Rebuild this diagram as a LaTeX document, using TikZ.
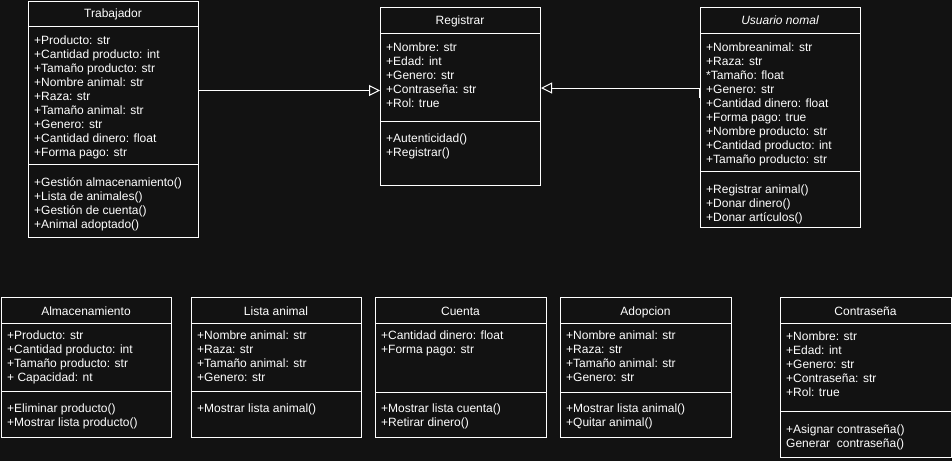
\documentclass[tikz,border=0pt]{standalone}
\usepackage{fontspec}
\setmainfont{Liberation Sans}
\usetikzlibrary{arrows.meta}
\definecolor{fondo}{RGB}{18,18,18}
\begin{document}
\begin{tikzpicture}[x=1pt, y=-1pt,
    caja/.style={draw=white, line width=1pt, inner sep=0pt, anchor=north west},
    linea/.style={white, line width=1pt},
    titulo/.style={anchor=base, inner sep=0pt, text=white, font=\fontsize{12}{14}\selectfont},
    attr/.style={anchor=base west, inner sep=0pt, text=white, text height=9pt, text depth=3pt, font=\fontsize{12}{14}\selectfont},
    hereda/.style={white, line width=1pt, -{Triangle[open, length=11pt, width=11pt]}}]
    \fill[fondo] (0,0) rectangle (952,461);
    \useasboundingbox (0,0) rectangle (952,461);

    % Trabajador
    \node[caja, minimum width=170pt, minimum height=236pt] (trab) at (28,1) {};
    \draw[linea] (trab.west |- 0,26) -- (trab.east |- 0,26);
    \draw[linea] (trab.west |- 0,164) -- (trab.east |- 0,164);
    \node[titulo] (trab-t) at (113,17.8) {Trabajador};
    \foreach \t [count=\i] in {+Producto: str, +Cantidad producto: int, +Tamaño producto: str, +Nombre animal: str, +Raza: str, +Tamaño animal: str, +Genero: str, +Cantidad dinero: float, +Forma pago: str}
        \node[attr] (trab-a\i) at (34,{44.5+14*(\i-1)}) {\t};
    \foreach \t [count=\i] in {+Gestión almacenamiento(), +Lista de animales(), +Gestión de cuenta(), +Animal adoptado()}
        \node[attr] (trab-m\i) at (34,{186.5+14*(\i-1)}) {\t};

    % Registrar
    \node[caja, minimum width=160pt, minimum height=178pt] (reg) at (380,7) {};
    \draw[linea] (reg.west |- 0,33) -- (reg.east |- 0,33);
    \draw[linea] (reg.west |- 0,121) -- (reg.east |- 0,121);
    \node[titulo] (reg-t) at (460,24.8) {Registrar};
    \foreach \t [count=\i] in {+Nombre: str, +Edad: int, +Genero: str, +Contraseña: str, +Rol: true}
        \node[attr] (reg-a\i) at (386,{51.2+14*(\i-1)}) {\t};
    \foreach \t [count=\i] in {+Autenticidad(), +Registrar()}
        \node[attr] (reg-m\i) at (386,{142.8+14*(\i-1)}) {\t};

    % Usuario nomal
    \node[caja, minimum width=160pt, minimum height=220pt] (usr) at (700,7) {};
    \draw[linea] (usr.west |- 0,33) -- (usr.east |- 0,33);
    \draw[linea] (usr.west |- 0,171) -- (usr.east |- 0,171);
    \node[titulo, font=\fontsize{12}{14}\selectfont\itshape] (usr-t) at (780,24.8) {Usuario nomal};
    \foreach \t [count=\i] in {+Nombreanimal: str, +Raza: str, *Tamaño: float, +Genero: str, +Cantidad dinero: float, +Forma pago: true, +Nombre producto: str, +Cantidad producto: int, +Tamaño producto: str}
        \node[attr] (usr-a\i) at (706,{51.2+14*(\i-1)}) {\t};
    \foreach \t [count=\i] in {+Registrar animal(), +Donar dinero(), +Donar artículos()}
        \node[attr] (usr-m\i) at (706,{193.5+14*(\i-1)}) {\t};

    % Almacenamiento
    \node[caja, minimum width=170pt, minimum height=140pt] (alm) at (1,297) {};
    \draw[linea] (alm.west |- 0,323) -- (alm.east |- 0,323);
    \draw[linea] (alm.west |- 0,391) -- (alm.east |- 0,391);
    \node[titulo] (alm-t) at (86,315) {Almacenamiento};
    \foreach \t [count=\i] in {+Producto: str, +Cantidad producto: int, +Tamaño producto: str, + Capacidad: nt}
        \node[attr] (alm-a\i) at (7,{339.5+14*(\i-1)}) {\t};
    \foreach \t [count=\i] in {+Eliminar producto(), +Mostrar lista producto()}
        \node[attr] (alm-m\i) at (7,{412.8+14*(\i-1)}) {\t};

    % Lista animal
    \node[caja, minimum width=170pt, minimum height=140pt] (lis) at (191,297) {};
    \draw[linea] (lis.west |- 0,323) -- (lis.east |- 0,323);
    \draw[linea] (lis.west |- 0,391) -- (lis.east |- 0,391);
    \node[titulo] (lis-t) at (276,315) {Lista animal};
    \foreach \t [count=\i] in {+Nombre animal: str, +Raza: str, +Tamaño animal: str, +Genero: str}
        \node[attr] (lis-a\i) at (197,{339.5+14*(\i-1)}) {\t};
    \node[attr] (lis-m1) at (197,412.8) {+Mostrar lista animal()};

    % Cuenta
    \node[caja, minimum width=171pt, minimum height=140pt] (cue) at (375,297) {};
    \draw[linea] (cue.west |- 0,323) -- (cue.east |- 0,323);
    \draw[linea] (cue.west |- 0,392) -- (cue.east |- 0,392);
    \node[titulo] (cue-t) at (460.5,315) {Cuenta};
    \foreach \t [count=\i] in {+Cantidad dinero: float, +Forma pago: str}
        \node[attr] (cue-a\i) at (381,{339.5+14*(\i-1)}) {\t};
    \foreach \t [count=\i] in {+Mostrar lista cuenta(), +Retirar dinero()}
        \node[attr] (cue-m\i) at (381,{412.8+14*(\i-1)}) {\t};

    % Adopcion
    \node[caja, minimum width=171pt, minimum height=140pt] (ado) at (560,297) {};
    \draw[linea] (ado.west |- 0,392) -- (ado.east |- 0,392);
    \draw[linea] (ado.west |- 0,323) -- (ado.east |- 0,323);
    \node[titulo] (ado-t) at (645.5,315) {Adopcion};
    \foreach \t [count=\i] in {+Nombre animal: str, +Raza: str, +Tamaño animal: str, +Genero: str}
        \node[attr] (ado-a\i) at (566,{339.5+14*(\i-1)}) {\t};
    \foreach \t [count=\i] in {+Mostrar lista animal(), +Quitar animal()}
        \node[attr] (ado-m\i) at (566,{412.8+14*(\i-1)}) {\t};

    % Contraseña
    \node[caja, minimum width=171pt, minimum height=160pt] (con) at (780,297) {};
    \draw[linea] (con.west |- 0,323) -- (con.east |- 0,323);
    \draw[linea] (con.west |- 0,411) -- (con.east |- 0,411);
    \node[titulo] (con-t) at (865.5,315) {Contraseña};
    \foreach \t [count=\i] in {+Nombre: str, +Edad: int, +Genero: str, +Contraseña: str, +Rol: true}
        \node[attr] (con-a\i) at (786,{340.5+14*(\i-1)}) {\t};
    \foreach \t [count=\i] in {+Asignar contraseña(), Generar\ \ contraseña()}
        \node[attr] (con-m\i) at (786,{433.8+14*(\i-1)}) {\t};

    % Inheritance arrows
    \coordinate (reg-izq) at ([yshift=6pt]reg.west);
    \coordinate (reg-der) at ([yshift=8.5pt]reg.east);
    \coordinate (usr-sal) at ([xshift=-1pt, yshift=19.3pt]usr.west);
    \draw[hereda] (trab.east |- reg-izq) -- (reg-izq);
    \draw[hereda] (usr-sal) |- (reg-der);
\end{tikzpicture}
\end{document}
